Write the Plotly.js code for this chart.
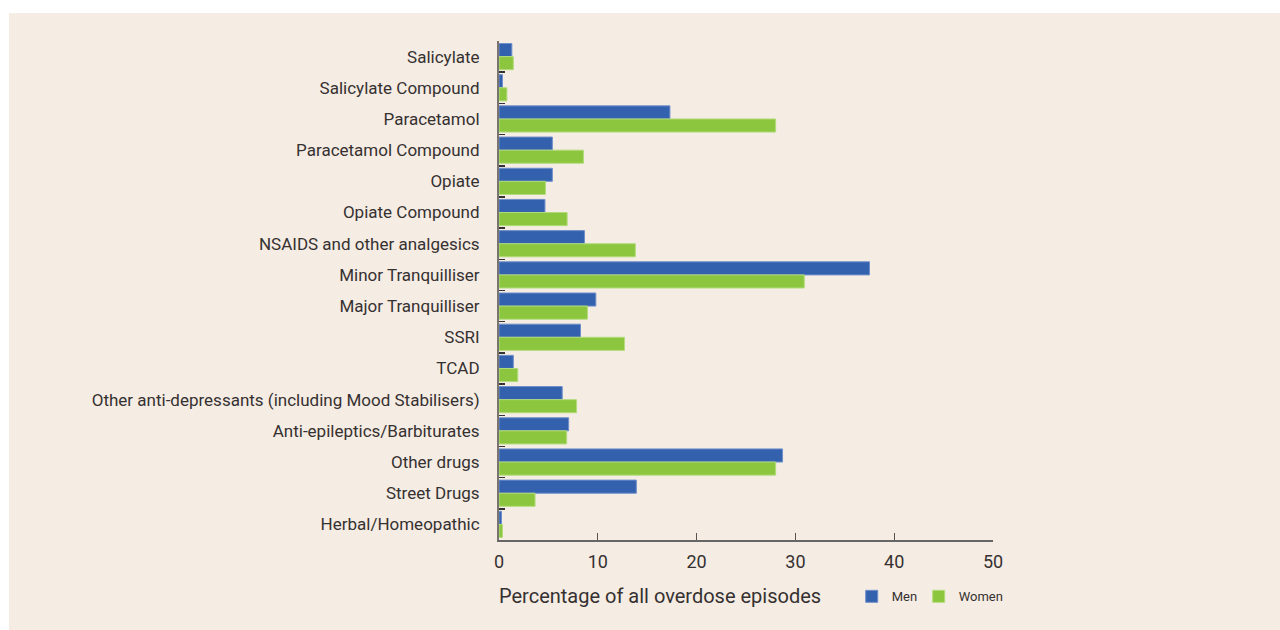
<!DOCTYPE html>
<html>
<head>
<meta charset="utf-8">
<script src="https://cdn.plot.ly/plotly-3.0.1.min.js"></script>
<style>
  html, body { margin: 0; padding: 0; background: #ffffff; width: 1280px; height: 630px; overflow: hidden; }
  #chart { position: absolute; left: 9px; top: 13px; width: 1271px; height: 617px; }
</style>
</head>
<body>
<div id="chart"></div>
<script>
const categories = [
  "Salicylate",
  "Salicylate Compound",
  "Paracetamol",
  "Paracetamol Compound",
  "Opiate",
  "Opiate Compound",
  "NSAIDS and other analgesics",
  "Minor Tranquilliser",
  "Major Tranquilliser",
  "SSRI",
  "TCAD",
  "Other anti-depressants (including Mood Stabilisers)",
  "Anti-epileptics/Barbiturates",
  "Other drugs",
  "Street Drugs",
  "Herbal/Homeopathic"
];
const menValues   = [1.3, 0.35, 17.3, 5.4, 5.4, 4.65, 8.65, 37.5, 9.8, 8.25, 1.45, 6.4, 7.05, 28.7, 13.9, 0.25];
const womenValues = [1.45, 0.8, 28.0, 8.55, 4.7, 6.9, 13.8, 30.9, 8.95, 12.7, 1.9, 7.85, 6.85, 28.0, 3.65, 0.35];
const xTicks = [0, 10, 20, 30, 40, 50];
const seriesNames = ["Men", "Women"];
const axisTitle = "Percentage of all overdose episodes";

const FONT = 'Roboto, "Liberation Sans", sans-serif';
const TEXT = '#353131';

const traces = [
  {
    type: 'bar', orientation: 'h', name: seriesNames[0],
    y: categories, x: menValues,
    marker: { color: '#3461ae', line: { color: '#6f8fcb', width: 1 } },
    legend: 'legend',
    hoverinfo: 'x+y'
  },
  {
    type: 'bar', orientation: 'h', name: seriesNames[1],
    y: categories, x: womenValues,
    marker: { color: '#8cc63f', line: { color: '#b3dc7c', width: 1 } },
    legend: 'legend2',
    hoverinfo: 'x+y'
  }
];

const legendBase = {
  orientation: 'h',
  xanchor: 'left',
  y: -0.113, yanchor: 'middle',
  bgcolor: 'rgba(0,0,0,0)',
  font: { family: FONT, size: 13, color: TEXT },
  itemclick: false, itemdoubleclick: false
};

const layout = {
  width: 1271, height: 617,
  paper_bgcolor: '#f5ece3',
  plot_bgcolor: '#f5ece3',
  margin: { l: 490, r: 287, t: 28, b: 90, pad: 0 },
  barmode: 'group',
  bargap: 0.16,
  bargroupgap: 0,
  font: { family: FONT, color: TEXT, size: 17 },
  xaxis: {
    range: [0, 50],
    tickvals: xTicks,
    ticktext: xTicks.map(String),
    ticks: 'inside', ticklen: 7, tickwidth: 1, tickcolor: '#555',
    showline: true, linecolor: '#666', linewidth: 1.5,
    showgrid: false, zeroline: false,
    ticklabelstandoff: 5,
    tickfont: { family: FONT, size: 18, color: TEXT },
    fixedrange: true
  },
  yaxis: {
    type: 'category',
    autorange: 'reversed',
    ticks: 'inside', tickson: 'boundaries', ticklen: 6, tickwidth: 1.5, tickcolor: '#333',
    showline: true, linecolor: '#7a7470', linewidth: 2,
    showgrid: false, zeroline: false,
    ticklabelstandoff: 14,
    tickfont: { family: FONT, size: 17, color: TEXT },
    fixedrange: true
  },
  showlegend: true,
  legend: Object.assign({}, legendBase, { x: 0.714 }),
  legend2: Object.assign({}, legendBase, { x: 0.8496 }),
  annotations: [
    {
      text: axisTitle,
      xref: 'paper', yref: 'paper',
      x: -0.005, y: -0.113,
      xanchor: 'left', yanchor: 'middle',
      showarrow: false,
      font: { family: FONT, size: 20, color: TEXT }
    }
  ]
};

Plotly.newPlot('chart', traces, layout, { displayModeBar: false, staticPlot: true });
</script>
</body>
</html>
